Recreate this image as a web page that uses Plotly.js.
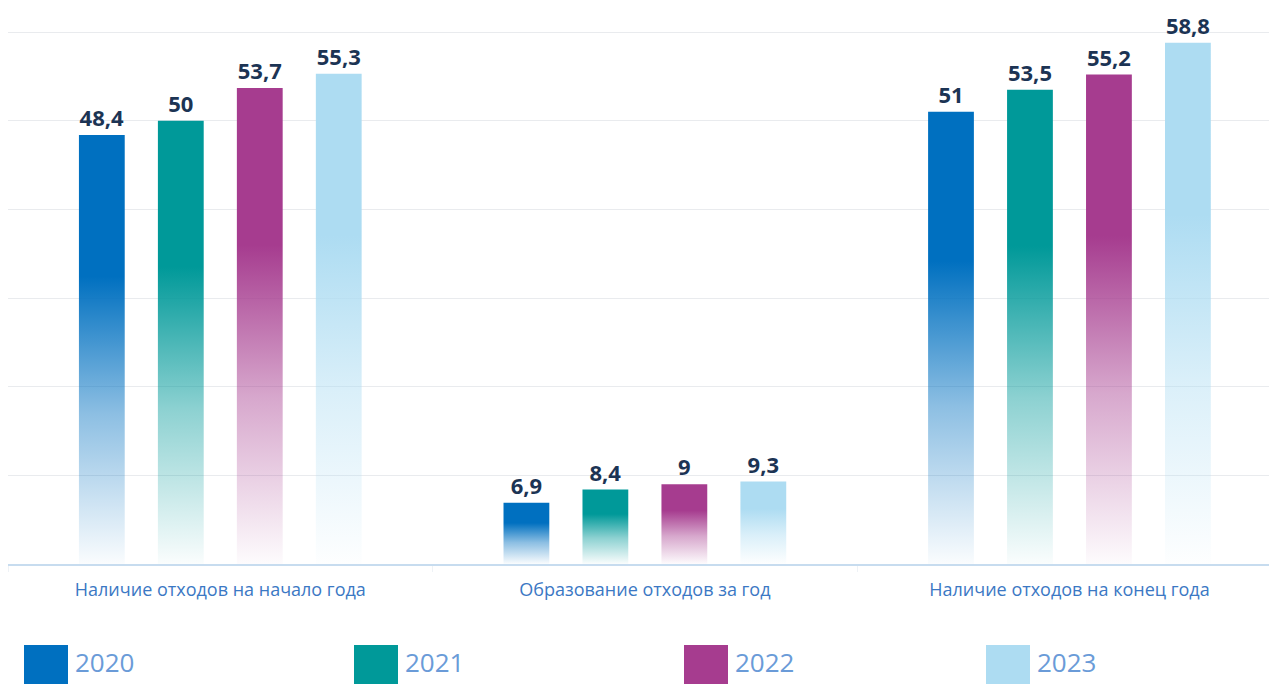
<!DOCTYPE html>
<html>
<head>
<meta charset="utf-8">
<script src="https://cdn.plot.ly/plotly-3.0.1.min.js"></script>
<style>html,body{margin:0;padding:0;background:#fff;}#chart{width:1269px;height:684px;}</style>
</head>
<body>
<div id="chart"></div>
<script>
const categories = ['Наличие отходов на начало года', 'Образование отходов за год', 'Наличие отходов на конец года'];
const years = ['2020', '2021', '2022', '2023'];
const values2020 = [48.4, 6.9, 51];
const values2021 = [50, 8.4, 53.5];
const values2022 = [53.7, 9, 55.2];
const values2023 = [55.3, 9.3, 58.8];
const colors = ['#0070c0', '#009999', '#a63c8f', '#addcf2'];
const series = [values2020, values2021, values2022, values2023];

const traces = series.map((vals, i) => ({
  type: 'bar',
  name: years[i],
  x: categories,
  y: vals,
  marker: {color: colors[i], line: {width: 0}},
  text: vals,
  texttemplate: '%{y}',
  textposition: 'outside',
  textfont: {family: 'Open Sans', size: 22, color: '#1c3454', weight: 700},
  cliponaxis: false,
  showlegend: false,
  hoverinfo: 'skip'
}));

// custom legend (big squares + text)
const legendX = [24, 354, 684, 986];
const shapes = [];
const annotations = [];
const pxX = px => (px - 8) / 1261;
const pxY = py => (564 - py) / 534;
years.forEach((y, i) => {
  shapes.push({type: 'rect', xref: 'paper', yref: 'paper',
    x0: pxX(legendX[i]), x1: pxX(legendX[i] + 44), y0: pxY(645), y1: pxY(690),
    fillcolor: colors[i], line: {width: 0}});
  annotations.push({xref: 'paper', yref: 'paper', x: pxX(legendX[i] + 49), y: pxY(662),
    xanchor: 'left', yanchor: 'middle', text: y, showarrow: false,
    font: {family: 'Open Sans', size: 26, color: '#6a9bd8'}});
});

const layout = {
  width: 1269, height: 684,
  margin: {l: 8, r: 0, t: 30, b: 120},
  paper_bgcolor: '#fff', plot_bgcolor: '#fff',
  separators: ', ',
  barmode: 'group',
  bargap: 0.256,
  bargroupgap: 0.42,
  showlegend: false,
  xaxis: {
    range: [-0.5, 2.47],
    showline: true, linecolor: '#c7dcef', linewidth: 1.5,
    ticks: 'outside', tickson: 'boundaries', ticklen: 6, tickcolor: '#eef2f6', tickwidth: 1,
    tickfont: {family: 'Open Sans', size: 18, color: '#3b78c4'},
    ticklabelstandoff: 9,
    showgrid: false, zeroline: false, fixedrange: true
  },
  yaxis: {
    range: [0, 60.23], dtick: 10, showticklabels: false,
    showgrid: true, gridcolor: '#e9ebee', gridwidth: 1,
    zeroline: false, showline: false, fixedrange: true
  },
  shapes: shapes,
  annotations: annotations
};

const gd = document.getElementById('chart');

function applyGradients() {
  const svg = gd.querySelector('svg.main-svg');
  if (!svg) return;
  let defs = svg.querySelector('defs#customgrads');
  if (!defs) {
    defs = document.createElementNS('http://www.w3.org/2000/svg', 'defs');
    defs.setAttribute('id', 'customgrads');
    colors.forEach((c, i) => {
      const g = document.createElementNS('http://www.w3.org/2000/svg', 'linearGradient');
      g.setAttribute('id', 'bargrad' + i);
      g.setAttribute('x1', '0'); g.setAttribute('y1', '0');
      g.setAttribute('x2', '0'); g.setAttribute('y2', '1');
      [[0, 1], [0.33, 1], [0.65, 0.45], [1, 0.02]].forEach(([o, a]) => {
        const s = document.createElementNS('http://www.w3.org/2000/svg', 'stop');
        s.setAttribute('offset', o);
        s.setAttribute('stop-color', c);
        s.setAttribute('stop-opacity', a);
        g.appendChild(s);
      });
      defs.appendChild(g);
    });
    svg.insertBefore(defs, svg.firstChild);
  }
  const traceGroups = gd.querySelectorAll('g.trace.bars');
  traceGroups.forEach((tg, i) => {
    tg.querySelectorAll('g.point path').forEach(p => {
      p.style.fill = 'url(#bargrad' + i + ')';
      p.style.fillOpacity = 1;
    });
  });
}

Plotly.newPlot(gd, traces, layout, {displayModeBar: false, staticPlot: true}).then(() => {
  applyGradients();
  gd.on('plotly_afterplot', applyGradients);
});
</script>
</body>
</html>
